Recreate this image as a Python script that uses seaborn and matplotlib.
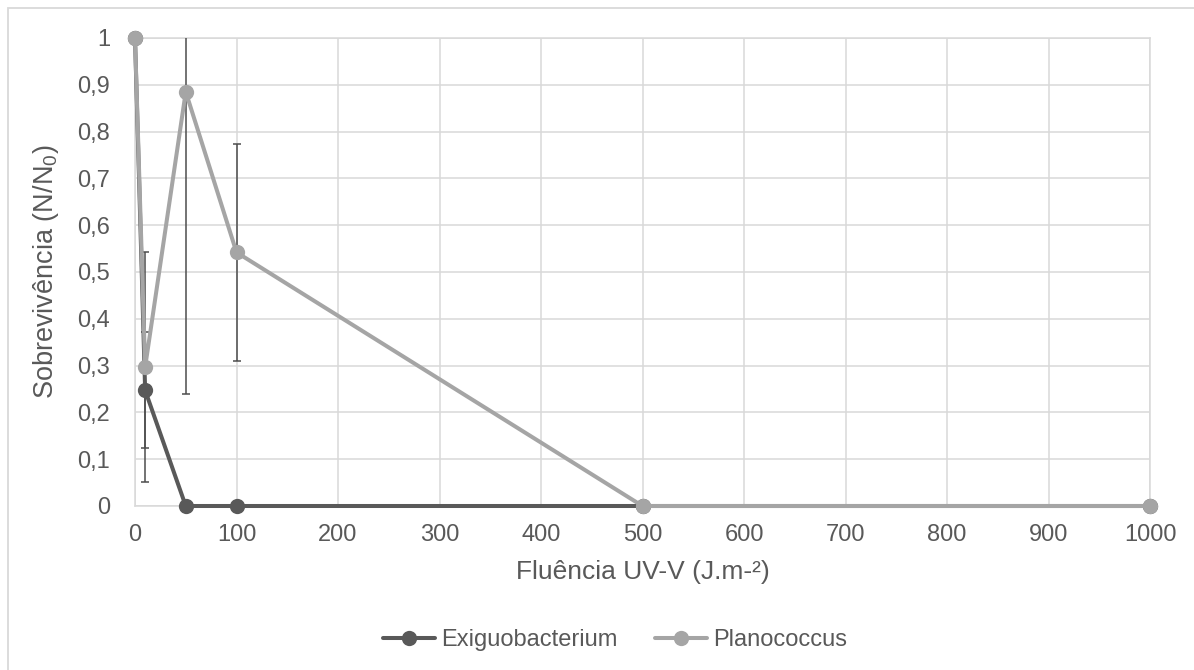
import matplotlib
matplotlib.use("Agg")
import matplotlib.pyplot as plt
from matplotlib.lines import Line2D
from matplotlib.patches import Rectangle
from matplotlib.ticker import FuncFormatter, MultipleLocator
import numpy as np
import pandas as pd
import seaborn as sns

# Fluence doses (J/m²)
fluence = [0, 10, 50, 100, 500, 1000]

# Survival fraction N/N0 per strain
exiguobacterium = [1.0, 0.247, 0.0, 0.0, 0.0, 0.0]
planococcus = [1.0, 0.297, 0.885, 0.542, 0.0, 0.0]

# Standard deviations
exiguobacterium_sd = [0.0, 0.124, 0.0, 0.0, 0.0, 0.0]
planococcus_sd = [0.0, 0.245, 0.645, 0.232, 0.0, 0.0]

series_names = ["Exiguobacterium", "Planococcus"]
colors = {"Exiguobacterium": "#595959", "Planococcus": "#A5A5A5"}

df = pd.DataFrame({
    "fluencia": fluence * 2,
    "sobrevivencia": exiguobacterium + planococcus,
    "serie": [series_names[0]] * len(fluence) + [series_names[1]] * len(fluence),
})

sns.set_style("white")
plt.rcParams["font.family"] = ["Liberation Sans", "DejaVu Sans"]
plt.rcParams["mathtext.default"] = "regular"

W, H = 1194, 670
fig = plt.figure(figsize=(W / 100, H / 100), dpi=100)
fig.patch.set_facecolor("white")

# Chart area border
fig.add_artist(Rectangle((8 / W, -0.1), 1.2, 1 - 8 / H + 0.1, transform=fig.transFigure,
                         fill=False, edgecolor="#D9D9D9", linewidth=1.3))

ax_left, ax_bottom = 135 / W, (H - 506) / H
ax_w, ax_h = (1150 - 135) / W, (506 - 38) / H
ax = fig.add_axes([ax_left, ax_bottom, ax_w, ax_h])

text_color = "#595959"
grid_color = "#D9D9D9"

# Error bars
ax.errorbar(fluence, exiguobacterium, yerr=exiguobacterium_sd, fmt="none",
            ecolor="#4D4D4D", elinewidth=1.1, capsize=3, capthick=1.1, zorder=3)
ax.errorbar(fluence, planococcus, yerr=planococcus_sd, fmt="none",
            ecolor="#4D4D4D", elinewidth=1.1, capsize=3, capthick=1.1, zorder=3)

sns.lineplot(data=df, x="fluencia", y="sobrevivencia", hue="serie",
             palette=colors, marker="o", markersize=11, markeredgewidth=0,
             linewidth=2.9, legend=False, ax=ax, zorder=4, sort=False)
for line in ax.lines:
    line.set_clip_on(False)

ax.set_xlim(0, 1000)
ax.set_ylim(0, 1)
ax.xaxis.set_major_locator(MultipleLocator(100))
ax.yaxis.set_major_locator(MultipleLocator(0.1))
ax.yaxis.set_major_formatter(FuncFormatter(
    lambda v, p: "0" if abs(v) < 1e-9 else ("1" if abs(v - 1) < 1e-9 else f"{v:.1f}".replace(".", ","))))
ax.grid(True, color=grid_color, linewidth=1.1)
ax.set_axisbelow(True)
for s in ax.spines.values():
    s.set_color(grid_color)
    s.set_linewidth(1.1)
ax.tick_params(axis="both", length=0, labelsize=17, colors=text_color)
ax.tick_params(axis="x", pad=13)
ax.tick_params(axis="y", pad=18)
ax.set_xlabel("")
ax.set_ylabel("")

fig.text(ax_left + ax_w / 2, 1 - 572 / H, "Fluência UV-V (J.m-²)", ha="center", va="center",
         fontsize=19, color=text_color)
fig.text(46 / W, ax_bottom + ax_h / 2, "Sobrevivência (N/N$_0$)", ha="center", va="center",
         rotation=90, fontsize=19.5, color=text_color)

handles = [Line2D([], [], color=colors[n], marker="o", markersize=11, markeredgewidth=0,
                  linewidth=2.9) for n in series_names]
fig.legend(handles, series_names, loc="center", bbox_to_anchor=(615 / W, 1 - 640 / H),
           ncol=2, frameon=False, fontsize=17, handlelength=2.2, handletextpad=0.25,
           columnspacing=1.6, labelcolor=text_color)

fig.savefig("out.png", dpi=100, facecolor="white")
